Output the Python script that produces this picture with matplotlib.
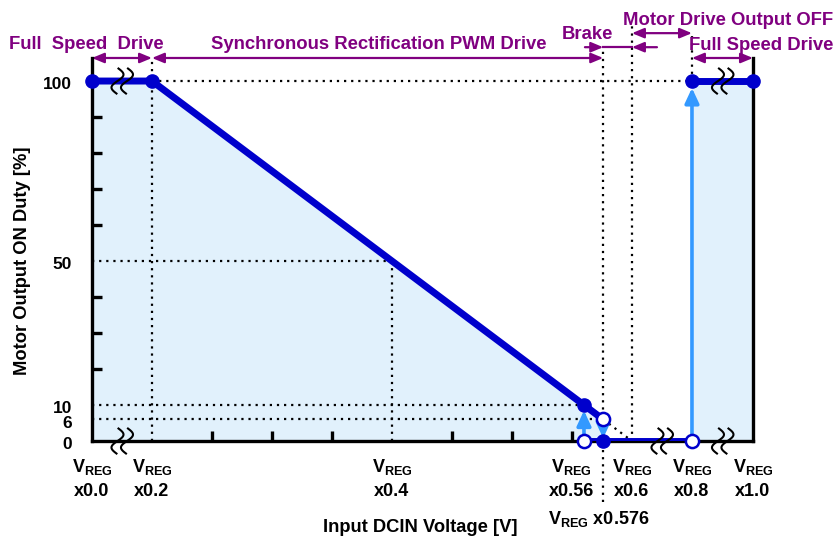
import numpy as np
import matplotlib.pyplot as plt
from matplotlib import transforms

plt.rcParams['font.family'] = ['Liberation Sans', 'DejaVu Sans']
plt.rcParams['font.weight'] = 'bold'
plt.rcParams['mathtext.fontset'] = 'custom'
plt.rcParams['mathtext.rm'] = 'Liberation Sans:bold'
plt.rcParams['mathtext.bf'] = 'Liberation Sans:bold'
plt.rcParams['mathtext.it'] = 'Liberation Sans:bold'

# input voltage (fraction of VREG) vs motor output duty (%)
pwm_v = [0.0, 0.2, 0.56, 0.576]
pwm_duty = [100, 100, 10, 6]
off_v = [0.56, 0.8]
off_duty = [0, 0]
full_v = [0.8, 1.0]
full_duty = [100, 100]

pwm_end_v = 0.56
brake_v = 0.576
cutoff_v = 0.6
restart_v = 0.8
mid_v = 0.4
mid_duty = 50

tick_v = [0.0, 0.2, 0.4, 0.56, 0.6, 0.8, 1.0]
tick_names = ['x0.0', 'x0.2', 'x0.4', 'x0.56', 'x0.6', 'x0.8', 'x1.0']
duty_ticks = [0, 6, 10, 50, 100]
minor_v = [0.2, 0.25, 0.3, 0.35, 0.4, 0.45, 0.5, 0.55, 0.6]
minor_duty = [10, 20, 30, 40, 50, 60, 70, 80, 90]

DARK = '#0000cc'
LIGHT = '#3399ff'
FILL = '#e1f1fc'
PURPLE = '#800080'
VREG = r'$\mathbf{V_{REG}}$'

# broken x axis: compressed 0-0.2, 0.6-0.8, 0.8-1.0
knots_v = [-1.0, 0.0, 0.2, 0.6, 0.8, 1.0, 2.0]
knots_px = [-300, 0, 60, 540, 600, 661, 966]


def fwd(v):
    return np.interp(v, knots_v, knots_px)


def inv(p):
    return np.interp(p, knots_px, knots_v)


fig = plt.figure(figsize=(8.37, 5.41), dpi=100)
ax = fig.add_axes([0.1099, 0.1848, 0.7897, 0.708])
ax.set_xscale('function', functions=(fwd, inv))
ax.set_xlim(0, 1.0)
ax.set_ylim(0, 106.4)

# shaded operating regions
ax.fill_between(pwm_v, pwm_duty, 0, color=FILL, lw=0, zorder=1)
ax.fill_between(full_v, full_duty, 0, color=FILL, lw=0, zorder=1)

# dotted guide lines
dot = dict(color='black', lw=1.6, ls=(0, (1, 2.2)), zorder=2, clip_on=False)
ax.plot([pwm_v[1], restart_v], [100, 100], **dot)
ax.plot([0, mid_v], [mid_duty, mid_duty], **dot)
ax.plot([mid_v, mid_v], [0, mid_duty], **dot)
ax.plot([0, pwm_end_v], [pwm_duty[2], pwm_duty[2]], **dot)
ax.plot([0, brake_v], [pwm_duty[3], pwm_duty[3]], **dot)
ax.plot([brake_v, cutoff_v], [pwm_duty[3], 0], **dot)
ax.plot([pwm_v[1], pwm_v[1]], [0, 106.4], **dot)
ax.plot([brake_v, brake_v], [-17, 109.4], **dot)
ax.plot([cutoff_v, cutoff_v], [0, 115.6], **dot)
ax.plot([restart_v, restart_v], [100, 113.6], **dot)

# duty characteristic
line = dict(color=DARK, lw=5, solid_capstyle='butt', zorder=4)
ax.plot(pwm_v, pwm_duty, **line)
ax.plot(off_v, off_duty, **line)
ax.plot(full_v, full_duty, **line)


# transitions
def jump(v, y0, y1, shrink):
    ax.annotate('', xy=(v, y1), xytext=(v, y0),
                arrowprops=dict(arrowstyle='-|>,head_length=0.75,head_width=0.35',
                                mutation_scale=12, lw=2.6, color=LIGHT,
                                shrinkA=0, shrinkB=shrink), zorder=5)


jump(pwm_end_v, 0, pwm_duty[2], 4)
jump(brake_v, pwm_duty[3], 0, 2)
jump(restart_v, 0, 100, 5)

filled = dict(marker='o', ms=9.5, color=DARK, ls='none', zorder=6, clip_on=False)
ax.plot([pwm_v[0], pwm_v[1], pwm_v[2], brake_v, full_v[0], full_v[1]],
        [pwm_duty[0], pwm_duty[1], pwm_duty[2], 0, full_duty[0], full_duty[1]], **filled)
ax.plot([pwm_end_v, brake_v, restart_v], [0, pwm_duty[3], 0], marker='o', ms=9.5,
        mfc='white', mec=DARK, mew=1.8, ls='none', zorder=7, clip_on=False)


# axis break symbols (two wavy strokes, sizes in inches)
def break_mark(v, d):
    u = np.linspace(0, 1, 50)
    tr = fig.dpi_scale_trans + transforms.ScaledTranslation(v, d, ax.transData)
    for dx in (-0.045, 0.05):
        x = dx - 0.055 * np.sin(2 * np.pi * u) + 0.02 * (u - 0.5)
        y = (u - 0.5) * 0.25
        ax.plot(x, y, color='black', lw=1.5, transform=tr, clip_on=False, zorder=8)


for v, d in [(0.1, 100), (0.1, 0), (0.7, 0), (0.9, 100), (0.9, 0)]:
    break_mark(v, d)

# axes styling
for side in ['left', 'right', 'bottom']:
    ax.spines[side].set_linewidth(2.4)
    ax.spines[side].set_zorder(3)
ax.spines['top'].set_visible(False)

ax.set_yticks(duty_ticks)
ax.set_yticklabels([])
ax.set_yticks(minor_duty, minor=True)
ax.tick_params(axis='y', which='major', length=0)
ax.tick_params(axis='y', which='minor', direction='in', length=7, width=2.4)
for t in duty_ticks:
    ax.annotate(str(t), xy=(0, t), xytext=(-14.5, -2.8), textcoords='offset points',
                ha='right', va='center', fontsize=12.5, annotation_clip=False)

ax.set_xticks(tick_v)
ax.set_xticklabels([])
ax.set_xticks(minor_v, minor=True)
ax.tick_params(axis='x', which='major', length=0)
ax.tick_params(axis='x', which='minor', direction='in', length=7, width=2.4)

for v, name in zip(tick_v, tick_names):
    shift = -9 if v == pwm_end_v else 0
    ax.annotate(VREG + '\n' + name, xy=(v, 0), xytext=(shift, -11.5),
                textcoords='offset points', ha='center', va='top',
                fontsize=13, linespacing=1.45)
ax.annotate(VREG + ' x0.576', xy=(brake_v, 0), xytext=(-3, -49),
            textcoords='offset points', ha='center', va='top', fontsize=13)

ax.set_ylabel('Motor Output ON Duty [%]', fontsize=13.2, fontweight='bold')
ax.yaxis.set_label_coords(-0.093, 0.47)
ax.set_xlabel('Input DCIN Voltage [V]', fontsize=13.2, fontweight='bold')
ax.xaxis.set_label_coords(0.496, -0.203)


# operating mode spans
def span(v0, v1, y, style='<|-|>'):
    ax.annotate('', xy=(v1, y), xytext=(v0, y),
                arrowprops=dict(arrowstyle=style + ',head_length=0.6,head_width=0.25',
                                mutation_scale=12, lw=1.6, color=PURPLE,
                                shrinkA=0, shrinkB=0), annotation_clip=False)


span(0.0, pwm_v[1], 106.4)
span(pwm_v[1], brake_v, 106.4)
span(cutoff_v, restart_v, 113.3)
span(restart_v, 1.0, 106.4)
span(0.5608, brake_v, 109.4, '-|>')
span(0.6833, cutoff_v, 109.4, '-|>')
ax.plot([brake_v, cutoff_v], [109.4, 109.4], color=PURPLE, lw=1.6, clip_on=False)

mode = dict(color=PURPLE, fontsize=13.3, fontweight='bold', ha='center', va='center',
            clip_on=False)
ax.text(-0.018, 110.2, 'Full  Speed  Drive', **mode)
ax.text(0.389, 110.2, 'Synchronous Rectification PWM Drive', **mode)
ax.text(0.5625, 112.8, 'Brake', **mode)
ax.text(0.918, 116.8, 'Motor Drive Output OFF', **mode)
ax.text(1.026, 110.0, 'Full Speed Drive', **mode)

fig.savefig('out.png', dpi=100)
